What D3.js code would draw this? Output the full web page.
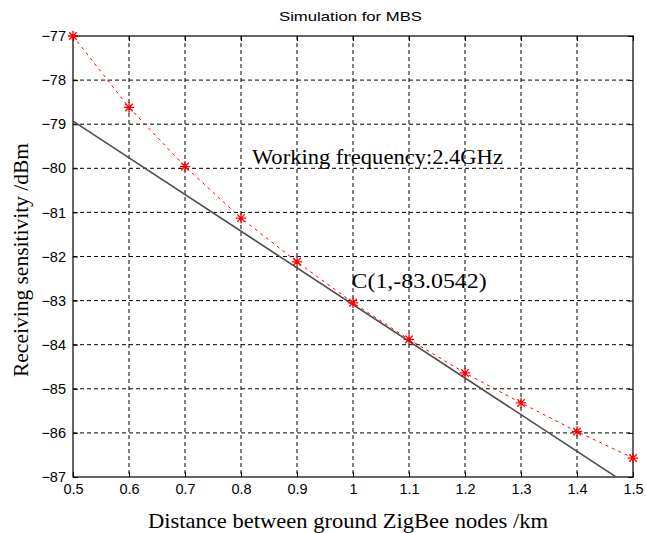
<!DOCTYPE html>
<html>
<head>
<meta charset="utf-8">
<script src="https://cdn.jsdelivr.net/npm/d3@7"></script>
<style>
  body { margin: 0; background: #fff; }
  .tick text { font-family: "Liberation Sans", Arial, sans-serif; font-size: 14.5px; fill: #000; }
</style>
</head>
<body>
<svg id="chart" width="646" height="533"></svg>
<script>
// measured data (red, simulated points)
var distKm = [0.5, 0.6, 0.7, 0.8, 0.9, 1.0, 1.1, 1.2, 1.3, 1.4, 1.5]
var sensDbm = [-77, -78.62, -79.96, -81.13, -82.12, -83.05, -83.88, -84.64, -85.32, -85.97, -86.57]

// fitted straight line (grey)
var fitX = [0.5, 1.5]
var fitY = [-78.93, -87.25]

var xTicks = [0.5, 0.6, 0.7, 0.8, 0.9, 1, 1.1, 1.2, 1.3, 1.4, 1.5]
var yTicks = [-77, -78, -79, -80, -81, -82, -83, -84, -85, -86, -87]

var margin = {left: 73, top: 36, right: 13, bottom: 56}
var W = 646, H = 533
var pw = W - margin.left - margin.right,
	ph = H - margin.top - margin.bottom

var serif = '"Liberation Serif", "Times New Roman", serif'

var svg = d3.select('#chart')
var g = svg.append('g')
	.attr('transform', 'translate(' + margin.left + ',' + margin.top + ')')

var x = d3.scaleLinear().domain([0.5, 1.5]).range([0, pw])
var y = d3.scaleLinear().domain([-87, -77]).range([ph, 0])

svg.append('defs').append('clipPath').attr('id', 'clip')
	.append('rect').attr('width', pw).attr('height', ph)

// grid
g.append('g').selectAll('line')
	.data(xTicks.slice(1, -1)).enter().append('line')
	.attr('x1', function(d){ return x(d) }).attr('x2', function(d){ return x(d) })
	.attr('y1', 0).attr('y2', ph)
	.attr('stroke', '#000').attr('stroke-dasharray', '4,3')
g.append('g').selectAll('line')
	.data(yTicks.slice(1, -1)).enter().append('line')
	.attr('y1', function(d){ return y(d) }).attr('y2', function(d){ return y(d) })
	.attr('x1', 0).attr('x2', pw)
	.attr('stroke', '#000').attr('stroke-dasharray', '4,3')

// axes, ticks pointing inside
var fmt = function(d){ return d3.format('')(+d.toFixed(1)) }
g.append('g').attr('transform', 'translate(0,' + ph + ')')
	.call(d3.axisBottom(x).tickValues(xTicks).tickSize(-5).tickPadding(7).tickFormat(fmt))
g.append('g')
	.call(d3.axisTop(x).tickValues(xTicks).tickSize(-5).tickFormat(''))
g.append('g')
	.call(d3.axisLeft(y).tickValues(yTicks).tickSize(-5).tickPadding(7).tickFormat(d3.format('')))
g.append('g').attr('transform', 'translate(' + pw + ',0)')
	.call(d3.axisRight(y).tickValues(yTicks).tickSize(-5).tickFormat(''))
g.selectAll('.domain').remove()
g.selectAll('.tick line').attr('stroke', '#000')

g.append('rect').attr('width', pw).attr('height', ph)
	.attr('fill', 'none').attr('stroke', '#000').attr('stroke-width', 1.2)

// lines
var line = d3.line().x(function(d){ return x(d[0]) }).y(function(d){ return y(d[1]) })

g.append('path')
	.datum(d3.zip(fitX, fitY))
	.attr('clip-path', 'url(#clip)')
	.attr('d', line)
	.attr('fill', 'none').attr('stroke', '#4d4d4d').attr('stroke-width', 1.6)

g.append('path')
	.datum(d3.zip(distKm, sensDbm))
	.attr('d', line)
	.attr('fill', 'none').attr('stroke', '#ff0000').attr('stroke-width', 1)
	.attr('stroke-dasharray', '3,4')

// matlab style '*' marker
var star = {
	draw: function(ctx, size){
		var r = Math.sqrt(size) / 2, k = r * 0.72
		ctx.moveTo(-r, 0); ctx.lineTo(r, 0)
		ctx.moveTo(0, -r); ctx.lineTo(0, r)
		ctx.moveTo(-k, -k); ctx.lineTo(k, k)
		ctx.moveTo(-k, k); ctx.lineTo(k, -k)
	}
}
g.append('g').selectAll('path')
	.data(d3.zip(distKm, sensDbm)).enter().append('path')
	.attr('transform', function(d){ return 'translate(' + x(d[0]) + ',' + y(d[1]) + ')' })
	.attr('d', d3.symbol().type(star).size(110))
	.attr('fill', 'none').attr('stroke', '#ff0000').attr('stroke-width', 1.3)

// texts
function label(sel, px, py, txt, size, len, family){
	return sel.append('text')
		.attr('x', px).attr('y', py)
		.attr('textLength', len).attr('lengthAdjust', 'spacingAndGlyphs')
		.style('font-family', family || serif).style('font-size', size + 'px')
		.text(txt)
}

label(svg, 279, 21, 'Simulation for MBS', 13.5, 143, '"Liberation Sans", Arial, sans-serif')
label(svg, 148, 528, 'Distance between ground ZigBee nodes /km', 21, 400)

svg.append('text')
	.attr('transform', 'translate(28,377) rotate(-90)')
	.attr('textLength', 234).attr('lengthAdjust', 'spacingAndGlyphs')
	.style('font-family', serif).style('font-size', '20px')
	.text('Receiving sensitivity /dBm')

label(g, x(0.8195), y(-79.9), 'Working frequency:2.4GHz', 21, 251)
label(g, x(0.9975), y(-82.72), 'C(1,-83.0542)', 21, 135)
</script>
</body>
</html>
